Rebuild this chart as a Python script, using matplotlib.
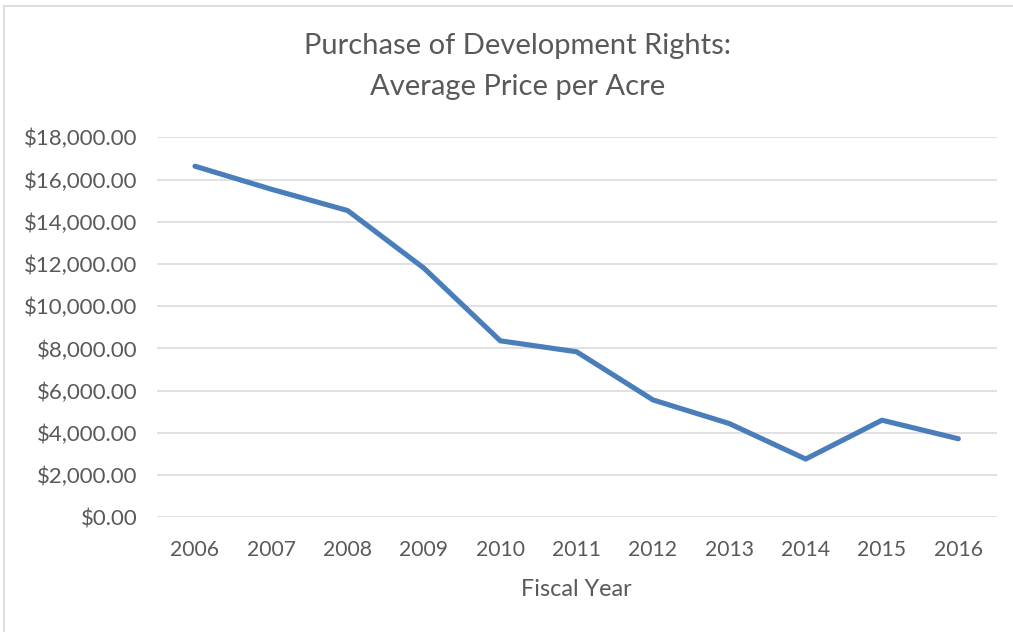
import matplotlib.pyplot as plt
from matplotlib.lines import Line2D
from matplotlib.ticker import FuncFormatter

years = ['2006', '2007', '2008', '2009', '2010', '2011', '2012', '2013', '2014', '2015', '2016']
avg_price = [16630, 15540, 14530, 11800, 8360, 7840, 5560, 4440, 2760, 4600, 3720]
y_ticks = [0, 2000, 4000, 6000, 8000, 10000, 12000, 14000, 16000, 18000]

plt.rcParams['font.family'] = ['Lato', 'DejaVu Sans']
text_color = '#595959'
W, H = 1013, 632

fig = plt.figure(figsize=(W / 100, H / 100), dpi=100)
ax = fig.add_axes([156.8 / W, 1 - 517.3 / H, (996.5 - 156.8) / W, (517.3 - 137.3) / H])

x = range(len(years))
ax.plot(x, avg_price, color='#4A7EBB', lw=3.7, solid_capstyle='round', solid_joinstyle='round', zorder=3)

ax.set_xlim(-0.5, len(years) - 0.5)
ax.set_ylim(0, 18000)
ax.set_xticks(list(x))
ax.set_xticklabels(years)
ax.set_yticks(y_ticks)
ax.yaxis.set_major_formatter(FuncFormatter(lambda v, p: '${:,.2f}'.format(v)))
ax.grid(axis='y', color='#D9D9D9', lw=1.1)
ax.set_axisbelow(True)
for s in ax.spines.values():
    s.set_visible(False)
ax.tick_params(length=0, labelcolor=text_color)
ax.tick_params(axis='y', pad=14, labelsize=16)
ax.tick_params(axis='x', pad=16, labelsize=15.2)
ax.set_xlabel('Fiscal Year', fontsize=16.8, color=text_color, labelpad=14)

fig.text(0.5106, 1 - 46 / H, 'Purchase of Development Rights:', ha='center', va='center',
         fontsize=21, color=text_color)
fig.text(0.5106, 1 - 87 / H, 'Average Price per Acre', ha='center', va='center',
         fontsize=21, color=text_color)

# chart border
fig.add_artist(Line2D([4 / W, 1], [1 - 6 / H, 1 - 6 / H], color='#D9D9D9', lw=1.2, transform=fig.transFigure))
fig.add_artist(Line2D([4 / W, 4 / W], [0, 1 - 6 / H], color='#D9D9D9', lw=1.2, transform=fig.transFigure))

fig.savefig('out.png', dpi=100)
